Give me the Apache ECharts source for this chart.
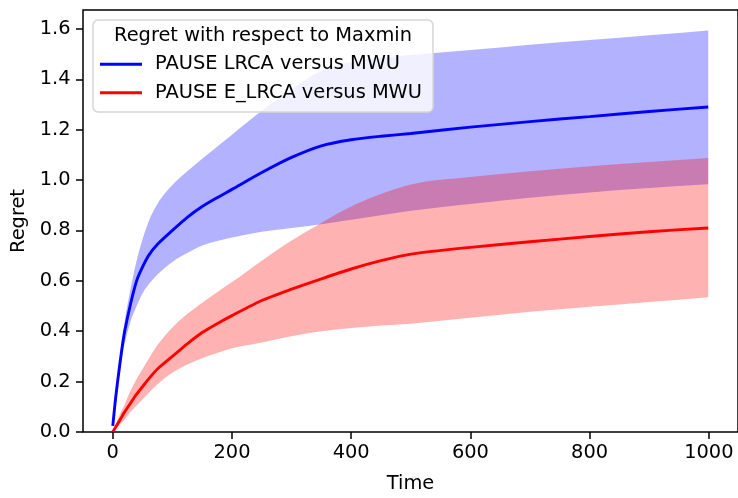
<!DOCTYPE html>
<html>
<head>
<meta charset="utf-8">
<script src="https://cdn.jsdelivr.net/npm/echarts@6/dist/echarts.min.js"></script>
<style>
  html, body { margin: 0; padding: 0; background: #ffffff; }
  #chart { width: 738px; height: 498px; }
</style>
</head>
<body>
<div id="chart"></div>
<script>
// Time steps at which the regret was sampled
const time = [0, 5, 10, 15, 20, 30, 40, 50, 60, 75, 100, 125, 150, 175, 200, 250, 300, 350, 400, 450, 500, 600, 700, 800, 900, 999];

// PAUSE LRCA versus MWU: mean regret and its spread
const lrcaMean  = [0.024, 0.14, 0.235, 0.325, 0.40, 0.51, 0.60, 0.655, 0.70, 0.745, 0.80, 0.852, 0.895, 0.93, 0.963, 1.03, 1.09, 1.136, 1.16, 1.174, 1.185, 1.21, 1.232, 1.252, 1.272, 1.29];
const lrcaUpper = [0.024, 0.155, 0.255, 0.36, 0.44, 0.57, 0.68, 0.765, 0.835, 0.905, 0.98, 1.035, 1.085, 1.132, 1.18, 1.275, 1.36, 1.435, 1.468, 1.485, 1.496, 1.516, 1.537, 1.556, 1.575, 1.594];
const lrcaLower = [0.024, 0.125, 0.21, 0.29, 0.35, 0.44, 0.50, 0.55, 0.585, 0.625, 0.675, 0.71, 0.74, 0.758, 0.772, 0.795, 0.81, 0.825, 0.842, 0.86, 0.878, 0.905, 0.93, 0.951, 0.968, 0.983];

// PAUSE E_LRCA versus MWU: mean regret and its spread
const eLrcaMean  = [0, 0.02, 0.04, 0.06, 0.08, 0.115, 0.15, 0.18, 0.21, 0.25, 0.30, 0.35, 0.395, 0.43, 0.462, 0.522, 0.567, 0.608, 0.647, 0.68, 0.706, 0.733, 0.755, 0.776, 0.795, 0.81];
const eLrcaUpper = [0, 0.03, 0.06, 0.085, 0.11, 0.165, 0.21, 0.25, 0.29, 0.345, 0.415, 0.468, 0.513, 0.555, 0.595, 0.68, 0.76, 0.83, 0.895, 0.945, 0.982, 1.012, 1.035, 1.055, 1.072, 1.088];
const eLrcaLower = [0, 0.012, 0.025, 0.038, 0.05, 0.08, 0.105, 0.13, 0.155, 0.19, 0.235, 0.268, 0.293, 0.314, 0.332, 0.355, 0.38, 0.40, 0.413, 0.423, 0.43, 0.453, 0.477, 0.497, 0.516, 0.535];

// Axis ticks
const xTicks = [0, 200, 400, 600, 800, 1000];
const yTicks = [0, 0.2, 0.4, 0.6, 0.8, 1.0, 1.2, 1.4, 1.6];

const seriesNames = ['PAUSE LRCA versus MWU', 'PAUSE E_LRCA versus MWU'];
const legendTitle = 'Regret with respect to Maxmin';

const FONT = 'DejaVu Sans';
const FS = 19.4;

const points = ys => time.map((t, i) => [t, ys[i]]);

// Monotone cubic tangents (Fritsch–Carlson) for pixel points ordered by x
function tangents(p) {
  const n = p.length;
  const sec = [];
  for (let i = 0; i < n - 1; i++) {
    const h = p[i + 1][0] - p[i][0];
    sec.push(h ? (p[i + 1][1] - p[i][1]) / h : 0);
  }
  const m = new Array(n);
  for (let i = 1; i < n - 1; i++) {
    const h0 = p[i][0] - p[i - 1][0], h1 = p[i + 1][0] - p[i][0];
    const s0 = sec[i - 1], s1 = sec[i];
    const q = (s0 * h1 + s1 * h0) / (h0 + h1);
    m[i] = (Math.sign(s0) + Math.sign(s1)) * Math.min(Math.abs(s0), Math.abs(s1), 0.5 * Math.abs(q)) || 0;
  }
  m[0] = n > 1 ? (3 * sec[0] - m[1]) / 2 : 0;
  m[n - 1] = n > 1 ? (3 * sec[n - 2] - m[n - 2]) / 2 : 0;
  return m;
}

// Smooth SVG path segments along the points, forward or backward
function curveSegments(p, backward) {
  const m = tangents(p);
  let d = '';
  if (!backward) {
    for (let i = 0; i < p.length - 1; i++) {
      const dx = (p[i + 1][0] - p[i][0]) / 3;
      d += ` C${p[i][0] + dx},${p[i][1] + dx * m[i]} ${p[i + 1][0] - dx},${p[i + 1][1] - dx * m[i + 1]} ${p[i + 1][0]},${p[i + 1][1]}`;
    }
  } else {
    for (let i = p.length - 1; i > 0; i--) {
      const dx = (p[i][0] - p[i - 1][0]) / 3;
      d += ` C${p[i][0] - dx},${p[i][1] - dx * m[i]} ${p[i - 1][0] + dx},${p[i - 1][1] + dx * m[i - 1]} ${p[i - 1][0]},${p[i - 1][1]}`;
    }
  }
  return d;
}

// Shaded spread between the lower and upper curves, drawn as one closed path
function spreadBand(id, lower, upper, fill) {
  return {
    id, type: 'custom', silent: true, clip: true,
    data: time.map((t, i) => [t, lower[i], upper[i]]),
    encode: { x: 0, y: [1, 2] },
    renderItem: (params, api) => {
      if (params.dataIndex !== 0) return null;
      const top = time.map((t, i) => api.coord([t, upper[i]]));
      const bottom = time.map((t, i) => api.coord([t, lower[i]]));
      const last = bottom[bottom.length - 1];
      const d = `M${top[0][0]},${top[0][1]}` + curveSegments(top, false) +
        ` L${last[0]},${last[1]}` + curveSegments(bottom, true) + ' Z';
      return { type: 'path', shape: { pathData: d }, style: { fill } };
    }
  };
}

function meanLine(name, ys, color) {
  return {
    name, type: 'line', data: points(ys), symbol: 'none',
    smooth: 0.25,
    silent: true, color,
    lineStyle: { color, width: 2.9 }
  };
}

const chart = echarts.init(document.getElementById('chart'), null, { renderer: 'canvas' });

chart.setOption({
  animation: false,
  backgroundColor: '#ffffff',
  textStyle: { fontFamily: FONT },
  grid: {
    left: 83, top: 10, width: 657, height: 426,
    show: true, borderColor: '#000000', borderWidth: 1.5,
    backgroundColor: 'transparent'
  },
  xAxis: {
    type: 'value', min: -49.95, max: 1048.95,
    name: 'Time', nameLocation: 'middle', nameGap: 42,
    nameTextStyle: { fontSize: FS, color: '#000', fontFamily: FONT },
    axisLine: { show: false, onZero: false },
    splitLine: { show: false },
    axisTick: { show: true, customValues: xTicks, length: 7, lineStyle: { color: '#000', width: 1.5 } },
    axisLabel: {
      customValues: xTicks, margin: 11, fontSize: FS, color: '#000', fontFamily: FONT,
      formatter: v => String(v)
    }
  },
  yAxis: {
    type: 'value', min: 0, max: 1.675,
    name: 'Regret', nameLocation: 'middle', nameGap: 46,
    nameTextStyle: { fontSize: FS, color: '#000', fontFamily: FONT },
    axisLine: { show: false, onZero: false },
    splitLine: { show: false },
    axisTick: { show: true, customValues: yTicks, length: 7, lineStyle: { color: '#000', width: 1.5 } },
    axisLabel: {
      customValues: yTicks, margin: 12.5, fontSize: FS, color: '#000', fontFamily: FONT,
      formatter: v => v.toFixed(1)
    }
  },
  legend: {
    data: seriesNames,
    orient: 'vertical', left: 100, top: 53.3, padding: 0,
    itemWidth: 42, itemHeight: 3, itemGap: 6.4, icon: 'rect',
    selectedMode: false, z: 60,
    textStyle: { fontSize: FS, fontFamily: FONT, color: '#000', lineHeight: 22, padding: [0, 0, 0, 8] }
  },
  graphic: [
    {
      type: 'rect', z: 50,
      shape: { x: 93, y: 20, width: 340, height: 92, r: 5 },
      style: { fill: 'rgba(255,255,255,0.8)', stroke: '#d6d6d6', lineWidth: 1.5 }
    },
    {
      type: 'text', z: 55, x: 263, y: 35.5,
      style: { text: legendTitle, fontSize: FS, fontFamily: FONT, fill: '#000', align: 'center', verticalAlign: 'middle' }
    }
  ],
  series: [
    spreadBand('lrca-spread', lrcaLower, lrcaUpper, 'rgba(0,0,255,0.3)'),
    meanLine(seriesNames[0], lrcaMean, '#0000ff'),
    spreadBand('elrca-spread', eLrcaLower, eLrcaUpper, 'rgba(255,0,0,0.3)'),
    meanLine(seriesNames[1], eLrcaMean, '#ff0000')
  ]
});
</script>
</body>
</html>
